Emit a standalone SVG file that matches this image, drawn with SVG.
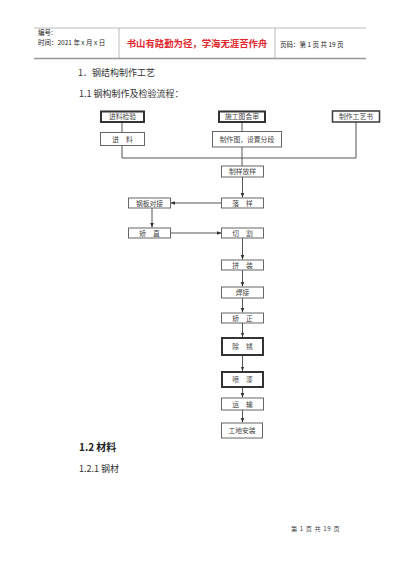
<svg xmlns="http://www.w3.org/2000/svg" width="400" height="566" viewBox="0 0 400 566">
<defs>
<style>
text{font-family:"Noto Sans CJK SC","Liberation Sans",sans-serif;fill:#333}
.hd{font-size:6.5px;fill:#222}
.lbl{font-size:6.8px;text-anchor:middle;fill:#444}
.box{fill:#fff;stroke:#666;stroke-width:1}
.tbox{fill:#fff;stroke:#333;stroke-width:2}
.mbox{fill:#fff;stroke:#444;stroke-width:1.6}
.ln{fill:none;stroke:#555;stroke-width:1}
.h1{font-size:9px;fill:#333}
</style>
<marker id="ah" viewBox="0 0 10 10" refX="10" refY="5" markerWidth="4.5" markerHeight="4.5" orient="auto" markerUnits="userSpaceOnUse">
<path d="M0,1 L10,5 L0,9 Z" fill="#333"/>
</marker>
</defs>
<rect width="400" height="566" fill="#fff"/>

<g id="header">
<line x1="34" y1="28" x2="366" y2="28" stroke="#aaa" stroke-width="0.8"/>
<line x1="34" y1="58.5" x2="366" y2="58.5" stroke="#999" stroke-width="1.5"/>
<line x1="119" y1="28" x2="119" y2="58" stroke="#aaa" stroke-width="0.8"/>
<line x1="275" y1="28" x2="275" y2="58" stroke="#aaa" stroke-width="0.8"/>
<text class="hd" x="38" y="35">编号:</text>
<text class="hd" x="38" y="45">时间：2021 年 x 月 x 日</text>
<text x="197" y="47" text-anchor="middle" style="font-size:9.4px;font-weight:bold;fill:#e0282e">书山有路勤为径，学海无涯苦作舟</text>
<text class="hd" x="280" y="47">页码：第 1 页 共 19 页</text>
</g>

<text class="h1" x="78" y="76">1．钢结构制作工艺</text>
<text class="h1" x="79" y="97">1.1 钢构制作及检验流程：</text>

<g id="connectors">
<line class="ln" x1="122" y1="122" x2="122" y2="132"/>
<line class="ln" x1="242" y1="122" x2="242" y2="131"/>
<polyline class="ln" points="122,146 122,158 356,158 356,122"/>
<line class="ln" x1="242" y1="147" x2="242" y2="166"/>
<line class="ln" x1="242.5" y1="177" x2="242.5" y2="197.5" marker-end="url(#ah)"/>
<line class="ln" x1="222" y1="203" x2="170.5" y2="203" marker-end="url(#ah)"/>
<line class="ln" x1="152" y1="207" x2="152" y2="227.5" marker-end="url(#ah)"/>
<line class="ln" x1="170" y1="233" x2="221.5" y2="233" marker-end="url(#ah)"/>
<line class="ln" x1="242.5" y1="238" x2="242.5" y2="259.5" marker-end="url(#ah)"/>
<line class="ln" x1="242.5" y1="270" x2="242.5" y2="286.5" marker-end="url(#ah)"/>
<line class="ln" x1="242.5" y1="298" x2="242.5" y2="312.5" marker-end="url(#ah)"/>
<line class="ln" x1="242.5" y1="323" x2="242.5" y2="337" marker-end="url(#ah)"/>
<line class="ln" x1="242.5" y1="355" x2="242.5" y2="371" marker-end="url(#ah)"/>
<line class="ln" x1="242.5" y1="387" x2="242.5" y2="397.5" marker-end="url(#ah)"/>
<line class="ln" x1="242.5" y1="410" x2="242.5" y2="422.5" marker-end="url(#ah)"/>
</g>

<g id="n-jinliaojianyan"><rect class="tbox" x="101" y="111.5" width="43" height="10.5"/><text class="lbl" x="122.5" y="119.2">进料检验</text></g>
<g id="n-shigongtu"><rect class="tbox" x="219" y="111.5" width="46" height="10.5"/><text class="lbl" x="242" y="119.2">施工图会审</text></g>
<g id="n-gongyishu"><rect class="mbox" x="332.5" y="111" width="47" height="11"/><text class="lbl" x="356" y="119.2">制作工艺书</text></g>
<g id="n-jinliao"><rect class="box" x="100.5" y="132.5" width="44" height="13"/><text class="lbl" x="122.5" y="141.5">进　料</text></g>
<g id="n-zhizuotu"><rect class="box" x="212.5" y="131.5" width="69" height="15.5"/><text class="lbl" x="247" y="141.5">制作图，设置分段</text></g>
<g id="n-zhiyang"><rect class="box" x="221.5" y="166" width="42" height="11"/><text class="lbl" x="242.5" y="174">制样放样</text></g>
<g id="n-luoyang"><rect class="box" x="221.5" y="198" width="42" height="10"/><text class="lbl" x="242.5" y="205.5">落　样</text></g>
<g id="n-gangban"><rect class="box" x="128.5" y="198" width="42" height="10"/><text class="lbl" x="149.5" y="205.5">钢板对接</text></g>
<g id="n-jiaozhi"><rect class="box" x="128.5" y="228" width="42" height="10"/><text class="lbl" x="149.5" y="235.5">矫　直</text></g>
<g id="n-qiege"><rect class="box" x="221.5" y="228" width="42" height="10"/><text class="lbl" x="242.5" y="235.5">切　割</text></g>
<g id="n-pinzhuang"><rect class="box" x="221.5" y="260" width="42" height="10"/><text class="lbl" x="242.5" y="267.5">拼　装</text></g>
<g id="n-hanjie"><rect class="box" x="221.5" y="287" width="42" height="11"/><text class="lbl" x="242.5" y="295">焊接</text></g>
<g id="n-jiaozheng"><rect class="box" x="221.5" y="313" width="42" height="10"/><text class="lbl" x="242.5" y="320.5">矫　正</text></g>
<g id="n-chuxiu"><rect class="tbox" x="222" y="338" width="41" height="17"/><text class="lbl" x="242.5" y="349">除　锈</text></g>
<g id="n-penqi"><rect class="tbox" x="222" y="372" width="41" height="15"/><text class="lbl" x="242.5" y="382">喷　漆</text></g>
<g id="n-yunshu"><rect class="box" x="221.5" y="398" width="42" height="12"/><text class="lbl" x="242.5" y="406.5">运　输</text></g>
<g id="n-anzhuang"><rect class="box" x="221.5" y="423" width="41" height="15"/><text class="lbl" x="242" y="433">工地安装</text></g>

<text x="79" y="451" style="font-size:10px;font-weight:bold;fill:#222">1.2 材料</text>
<text class="h1" x="79" y="472">1.2.1 钢材</text>
<text x="291" y="531" style="font-size:6.2px;fill:#444;letter-spacing:0.6px">第 1 页 共 19 页</text>
</svg>
